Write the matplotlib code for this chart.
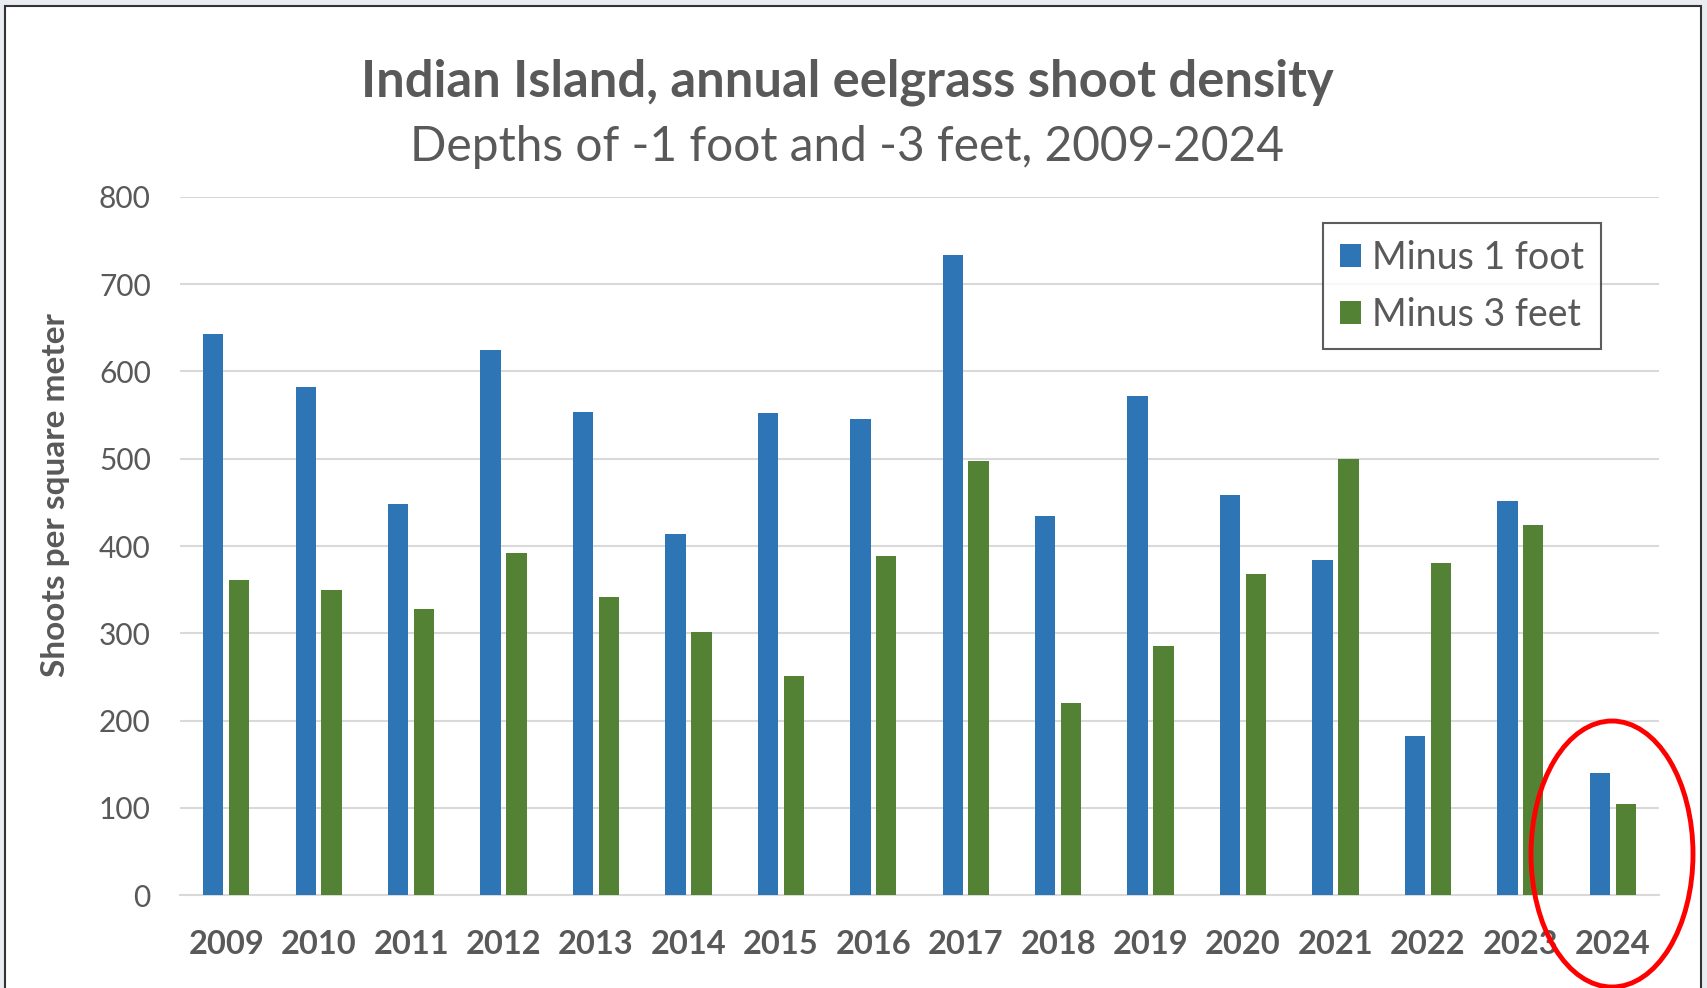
import numpy as np
import matplotlib.pyplot as plt
from matplotlib.patches import Rectangle, Ellipse

years = ['2009', '2010', '2011', '2012', '2013', '2014', '2015', '2016',
         '2017', '2018', '2019', '2020', '2021', '2022', '2023', '2024']
minus_1_foot = [643, 582, 448, 625, 554, 414, 552, 545, 733, 434, 572, 458, 384, 182, 452, 140]
minus_3_feet = [361, 349, 328, 392, 341, 302, 251, 388, 497, 220, 285, 368, 500, 381, 424, 104]

blue = '#2E75B6'
green = '#548235'
grey_text = '#595959'
grid_col = '#D9D9D9'

plt.rcParams['font.family'] = ['Lato', 'DejaVu Sans']

W, H = 1707, 988
fig = plt.figure(figsize=(W / 100, H / 100), dpi=100)
fig.patch.set_facecolor('#e9ecf0')

# white chart area with dark frame
fig.patches.append(Rectangle((5 / W, -0.05), (1701 - 5) / W, 1.05 - 6 / H,
                             transform=fig.transFigure, facecolor='white',
                             edgecolor='#333333', linewidth=1.5, zorder=-10))

ax = fig.add_axes([180 / W, (H - 895) / H, (1659 - 180) / W, (895 - 197) / H])
ax.set_zorder(1)
ax.patch.set_alpha(0)

x = np.arange(len(years))
ax.bar(x - 0.14, minus_1_foot, width=0.22, color=blue, label='Minus 1 foot', zorder=3)
ax.bar(x + 0.14, minus_3_feet, width=0.22, color=green, label='Minus 3 feet', zorder=3)

ax.set_xlim(-0.5, len(years) - 0.5)
ax.set_ylim(0, 800)
ax.set_yticks(np.arange(0, 801, 100))
ax.yaxis.grid(True, color=grid_col, linewidth=1.5, zorder=0)
ax.set_axisbelow(True)
for s in ['top', 'right', 'left']:
    ax.spines[s].set_visible(False)
ax.spines['bottom'].set_color(grid_col)
ax.spines['bottom'].set_linewidth(1.5)
ax.tick_params(axis='both', length=0)
ax.tick_params(axis='y', pad=21, labelsize=21.5, labelcolor=grey_text)
ax.tick_params(axis='x', pad=25, labelsize=23.5, labelcolor=grey_text)
ax.set_xticks(x)
ax.set_xticklabels(years, fontweight='bold')

# y axis title sits a bit above the middle of the axis
fig.text(56 / W, 1 - 495 / H, 'Shoots per square meter', rotation=90,
         ha='center', va='center', fontsize=24, fontweight='bold', color=grey_text)

fig.text(847 / W, 1 - 82 / H, 'Indian Island, annual eelgrass shoot density',
         ha='center', va='center', fontsize=36.5, fontweight='bold', color=grey_text)
fig.text(847 / W, 1 - 147 / H, 'Depths of -1 foot and -3 feet, 2009-2024',
         ha='center', va='center', fontsize=34.5, color=grey_text)

leg = ax.legend(loc='upper right', bbox_to_anchor=((1601 - 180) / (1659 - 180), (895 - 223) / (895 - 197)),
                borderaxespad=0, fontsize=27, frameon=True, fancybox=False,
                handlelength=0.55, handleheight=0.55, handletextpad=0.3,
                borderpad=0.45, labelspacing=0.55, labelcolor=grey_text)
leg.get_frame().set_edgecolor('#333333')
leg.get_frame().set_linewidth(1.5)

# red highlight ring around 2024
fig.patches.append(Ellipse((1612 / W, 1 - 854 / H), 162 / W, 266 / H,
                           transform=fig.transFigure, fill=False,
                           edgecolor='#FF0000', linewidth=3.5, zorder=10))

fig.savefig('out.png', dpi=100, facecolor=fig.get_facecolor())
